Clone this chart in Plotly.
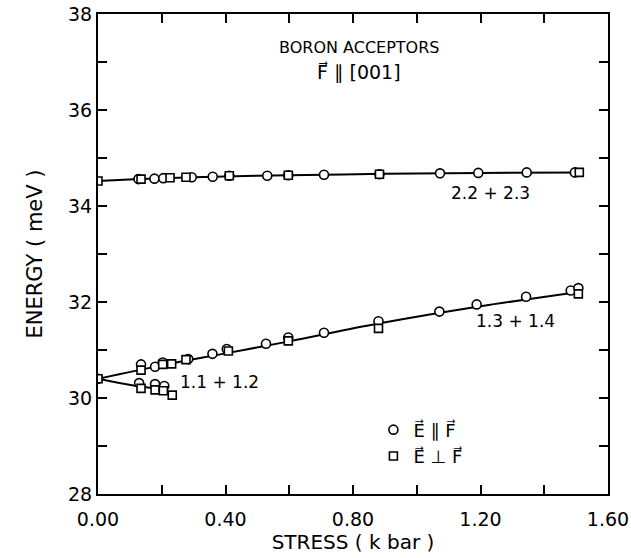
import plotly.graph_objects as go

# ---- data ----
# upper level 2.2 + 2.3
up_circ_x = [0.127, 0.177, 0.205, 0.294, 0.360, 0.412, 0.531, 0.597, 0.709, 0.883, 1.073, 1.193, 1.345, 1.496]
up_circ_y = [34.56, 34.57, 34.58, 34.60, 34.61, 34.63, 34.63, 34.64, 34.65, 34.66, 34.68, 34.69, 34.70, 34.70]
up_sq_x = [0.0, 0.135, 0.226, 0.276, 0.412, 0.597, 0.883, 1.510]
up_sq_y = [34.52, 34.56, 34.59, 34.60, 34.63, 34.64, 34.66, 34.70]
up_line_x = [0.0, 0.13, 0.3, 0.6, 0.9, 1.2, 1.52]
up_line_y = [34.52, 34.56, 34.60, 34.64, 34.67, 34.69, 34.70]

# 1.3 + 1.4
mid_circ_x = [0.0, 0.135, 0.179, 0.203, 0.283, 0.359, 0.404, 0.527, 0.597, 0.709, 0.880, 1.071, 1.188, 1.343, 1.483, 1.507]
mid_circ_y = [30.40, 30.70, 30.65, 30.74, 30.81, 30.92, 31.02, 31.13, 31.26, 31.36, 31.60, 31.80, 31.95, 32.11, 32.24, 32.29]
mid_sq_x = [0.0, 0.135, 0.203, 0.231, 0.276, 0.409, 0.597, 0.880, 1.507]
mid_sq_y = [30.40, 30.58, 30.70, 30.71, 30.80, 30.98, 31.19, 31.45, 32.17]
mid_line_x = [0.0, 0.2, 0.4, 0.6, 0.88, 1.2, 1.52]
mid_line_y = [30.40, 30.68, 30.93, 31.18, 31.55, 31.91, 32.22]

# 1.1 + 1.2
low_circ_x = [0.129, 0.179, 0.208]
low_circ_y = [30.31, 30.29, 30.25]
low_sq_x = [0.135, 0.179, 0.205, 0.233]
low_sq_y = [30.20, 30.17, 30.15, 30.06]
low_line_x = [0.0, 0.12, 0.22]
low_line_y = [30.40, 30.25, 30.18]

x_ticks = [0.0, 0.2, 0.4, 0.6, 0.8, 1.0, 1.2, 1.4, 1.6]
x_tick_text = ["0.00", "", "0.40", "", "0.80", "", "1.20", "", "1.60"]
y_ticks = [28, 29, 30, 31, 32, 33, 34, 35, 36, 37, 38]
y_tick_text = ["28", "", "30", "", "32", "", "34", "", "36", "", "38"]

FONT = "DejaVu Sans"
fig = go.Figure()

for lx, ly in [(up_line_x, up_line_y), (mid_line_x, mid_line_y), (low_line_x, low_line_y)]:
    fig.add_trace(go.Scatter(x=lx, y=ly, mode="lines", line=dict(color="black", width=2),
                             line_shape="spline", showlegend=False, hoverinfo="skip"))

circ_style = dict(symbol="circle", size=9, color="white", line=dict(color="black", width=1.6))
sq_style = dict(symbol="square", size=8, color="white", line=dict(color="black", width=1.6))

for i, (cx, cy) in enumerate([(up_circ_x, up_circ_y), (mid_circ_x, mid_circ_y), (low_circ_x, low_circ_y)]):
    fig.add_trace(go.Scatter(x=cx, y=cy, mode="markers", marker=circ_style,
                             name="E\u20d7 \u2225 F\u20d7", showlegend=(i == 0), legendgroup="c"))
for i, (sx, sy) in enumerate([(up_sq_x, up_sq_y), (mid_sq_x, mid_sq_y), (low_sq_x, low_sq_y)]):
    fig.add_trace(go.Scatter(x=sx, y=sy, mode="markers", marker=sq_style,
                             name="E\u20d7 \u22a5 F\u20d7", showlegend=(i == 0), legendgroup="s"))

axis_common = dict(showgrid=False, zeroline=False, showline=True, linecolor="black", linewidth=2,
                   mirror="allticks", ticks="inside", ticklen=9, tickwidth=1.5, tickcolor="black",
                   tickfont=dict(family=FONT, size=19, color="black"), automargin=False)

fig.update_xaxes(range=[0, 1.6], tickvals=x_ticks, ticktext=x_tick_text, ticklabelstandoff=7,
                 title=dict(text="STRESS ( k bar )", font=dict(family=FONT, size=20, color="black"), standoff=6),
                 **axis_common)
fig.update_yaxes(range=[28, 38], tickvals=y_ticks, ticktext=y_tick_text,
                 title=dict(text="ENERGY ( meV )", font=dict(family=FONT, size=21, color="black"), standoff=20),
                 **axis_common)

ann_font = dict(family=FONT, size=17, color="black")
fig.add_annotation(x=0.82, y=37.3, text="BORON ACCEPTORS", showarrow=False, font=dict(family=FONT, size=16, color="black"))
fig.add_annotation(x=0.82, y=36.78, text="F\u20d7 \u2225 [001]", showarrow=False, font=dict(family=FONT, size=19, color="black"))
fig.add_annotation(x=1.23, y=34.27, text="2.2 + 2.3", showarrow=False, font=ann_font)
fig.add_annotation(x=1.31, y=31.6, text="1.3 + 1.4", showarrow=False, font=ann_font)
fig.add_annotation(x=0.38, y=30.33, text="1.1 + 1.2", showarrow=False, font=ann_font)

fig.update_layout(
    width=631, height=558,
    margin=dict(l=98, r=23, t=14, b=64),
    plot_bgcolor="white", paper_bgcolor="white",
    legend=dict(x=0.54, y=0.172, xanchor="left", yanchor="top", bgcolor="rgba(0,0,0,0)",
                font=dict(family=FONT, size=18, color="black"), itemwidth=30, tracegroupgap=0),
)

fig.write_html("out.html")
